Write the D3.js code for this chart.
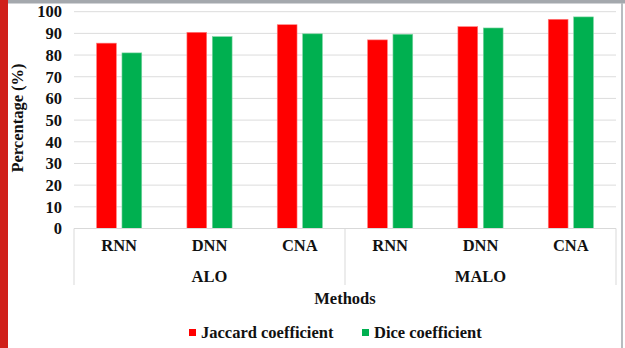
<!DOCTYPE html>
<html>
<head>
<meta charset="utf-8">
<script src="https://cdn.jsdelivr.net/npm/d3@7"></script>
<style>
  html, body { margin: 0; padding: 0; background: #fff; }
  svg { display: block; }
</style>
</head>
<body>
<script>
// Segmentation scores per optimiser group and method
const groups = ["ALO", "MALO"];
const methods = ["RNN", "DNN", "CNA"];
const seriesNames = ["Jaccard coefficient", "Dice coefficient"];
const seriesColors = ["#ff0000", "#00b050"];
const jaccard = [85.5, 90.5, 94.0, 87.0, 93.1, 96.5];
const dice = [81.0, 88.5, 89.8, 89.6, 92.5, 97.6];
const yTicks = [0, 10, 20, 30, 40, 50, 60, 70, 80, 90, 100];

const W = 625, H = 348;
const FONT = "'Liberation Serif', 'Times New Roman', serif";
const FS = "16.5px";
const svg = d3.select("body").append("svg").attr("width", W).attr("height", H);

function styleText(sel) {
  return sel.style("font-family", FONT).style("font-weight", "bold")
    .style("font-size", FS).style("fill", "#111");
}

// Frame: red strip on the left, grey rules on top and right
svg.append("rect").attr("x", 0).attr("y", 0).attr("width", 8).attr("height", H).attr("fill", "#d0201a");
svg.append("rect").attr("x", 8).attr("y", 0).attr("width", W - 8).attr("height", 3.5).attr("fill", "#a4a8ad");
svg.append("rect").attr("x", 621).attr("y", 3).attr("width", 2).attr("height", H - 3).attr("fill", "#b8bcc0");

const plot = { left: 74, right: 616, top: 11.7, bottom: 228.5 };

const cats = [];
groups.forEach(g => methods.forEach(m => cats.push(g + "|" + m)));
const rows = cats.map((c, i) => ({ key: c, group: c.split("|")[0], method: c.split("|")[1], values: [jaccard[i], dice[i]] }));

const x0 = d3.scaleBand().domain(cats).range([plot.left, plot.right]).padding(0);
const bw = x0.bandwidth();
const x1 = d3.scaleBand().domain(seriesNames).range([bw * 0.25, bw * 0.75]).paddingInner(0.22);
const y = d3.scaleLinear().domain([0, 100]).range([plot.bottom, plot.top]);

// Horizontal gridlines
svg.append("g").selectAll("line").data(yTicks.filter(t => t > 0)).join("line")
  .attr("x1", plot.left).attr("x2", plot.right)
  .attr("y1", d => y(d)).attr("y2", d => y(d))
  .attr("stroke", "#dcdcdc").attr("stroke-width", 1);

// Y axis labels
const yAxis = d3.axisLeft(y).tickValues(yTicks).tickSize(0).tickPadding(12);
const yg = svg.append("g").attr("transform", `translate(${plot.left},0)`).call(yAxis);
yg.select(".domain").remove();
styleText(yg.selectAll("text"));

// Bars
const catG = svg.append("g").selectAll("g").data(rows).join("g")
  .attr("transform", d => `translate(${x0(d.key)},0)`);
catG.selectAll("rect").data(d => d.values.map((v, i) => ({ name: seriesNames[i], v, i }))).join("rect")
  .attr("x", d => x1(d.name))
  .attr("width", x1.bandwidth())
  .attr("y", d => y(d.v))
  .attr("height", d => y(0) - y(d.v))
  .attr("fill", d => seriesColors[d.i])
  .attr("stroke", d => d.i === 0 ? "#ff8080" : "#7fd6a4")
  .attr("stroke-width", 0.6);

// Category axis line
svg.append("line").attr("x1", plot.left).attr("x2", plot.right)
  .attr("y1", plot.bottom).attr("y2", plot.bottom)
  .attr("stroke", "#d9d9d9").attr("stroke-width", 1);

// Group separators of the two-level axis
const sepX = [plot.left, x0(groups[1] + "|" + methods[0]), plot.right];
svg.append("g").selectAll("line").data(sepX).join("line")
  .attr("x1", d => d).attr("x2", d => d)
  .attr("y1", plot.bottom).attr("y2", 285)
  .attr("stroke", "#d9d9d9").attr("stroke-width", 1);

// Method labels
const xAxis = d3.axisBottom(x0).tickFormat(d => d.split("|")[1]).tickSize(0).tickPadding(11);
const xg = svg.append("g").attr("transform", `translate(0,${plot.bottom})`).call(xAxis);
xg.select(".domain").remove();
styleText(xg.selectAll("text"));

// Group labels
styleText(svg.append("g").selectAll("text").data(groups).join("text")
  .attr("x", g => x0(g + "|" + methods[1]) + bw / 2)
  .attr("y", 281.5)
  .attr("text-anchor", "middle")
  .text(g => g));

// Axis titles
styleText(svg.append("text").attr("x", (plot.left + plot.right) / 2).attr("y", 303.5)
  .attr("text-anchor", "middle").text("Methods"));
styleText(svg.append("text").attr("transform", "translate(23,118) rotate(-90)")
  .attr("text-anchor", "middle").text("Percentage (%)"));

// Legend
const legendX = [189, 362];
const lg = svg.append("g").selectAll("g").data(seriesNames).join("g")
  .attr("transform", (d, i) => `translate(${legendX[i]},326)`);
lg.append("rect").attr("width", 7).attr("height", 7).attr("y", 3).attr("fill", (d, i) => seriesColors[i]);
styleText(lg.append("text").attr("x", 12).attr("y", 12).text(d => d));
</script>
</body>
</html>
